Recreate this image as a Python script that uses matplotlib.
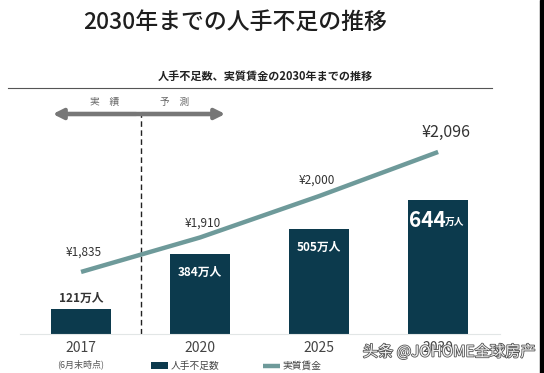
import matplotlib.pyplot as plt
import matplotlib.patheffects as pe
from matplotlib.lines import Line2D
from matplotlib.patches import Rectangle

plt.rcParams['font.family'] = ['Noto Sans CJK JP', 'DejaVu Sans']

# data
years = ["2017", "2020", "2025", "2030"]
shortage = [121, 384, 505, 644]          # 万人
wage = [1835, 1910, 2000, 2096]          # 実質賃金 (円)
wage_labels = ["¥1,835", "¥1,910", "¥2,000", "¥2,096"]

bar_color = "#0c3a4d"
line_color = "#6e9a9a"

W, H = 544, 373
fig = plt.figure(figsize=(W / 100, H / 100), dpi=100)

def fx(px):
    return px / W

def fy(py):
    return 1 - py / H

ax = fig.add_axes([fx(20), fy(334), fx(500) - fx(20), fy(100) - fy(334)])
x = list(range(len(years)))
bars = ax.bar(x, shortage, width=0.5, color=bar_color, zorder=2, label="人手不足数")
ax.set_xlim(-0.513, 3.52)
ax.set_ylim(0, 1125)
ax.set_yticks([])
for s in ["top", "left", "right"]:
    ax.spines[s].set_visible(False)
ax.spines["bottom"].set_color("#e2e6e6")
ax.set_xticks(x)
ax.set_xticklabels(years, fontsize=10, color="#444444")
ax.tick_params(axis="x", length=0, pad=5)

# 実績 / 予測 boundary
ax.axvline(0.5, ymin=0, ymax=0.94, ls=(0, (4, 2.5)), color="#222222", lw=1, zorder=1)

# bar labels
ax.text(0, shortage[0] + 20, "121万人", ha="center", va="bottom", fontsize=8.5,
        fontweight="bold", color="#333333")
for i in (1, 2):
    ax.text(i, shortage[i] - 90, f"{shortage[i]}万人", ha="center", va="center",
            fontsize=8.5, fontweight="bold", color="white")
ax.text(3.06, shortage[3] - 96, "644", ha="right", va="center", fontsize=15,
        fontweight="bold", color="white")
ax.text(3.06, shortage[3] - 104, "万人", ha="left", va="center", fontsize=7,
        fontweight="bold", color="white")

# wage line
ax2 = ax.twinx()
ax2.set_ylim(1700, 2209)
ax2.axis("off")
ln, = ax2.plot(x, wage, color=line_color, lw=3.2, solid_capstyle="butt", zorder=3,
               label="実質賃金")
offs = [(0.02, 28), (0.02, 18), (-0.02, 20), (0.07, 24)]
sizes = [8.5, 8.5, 8.5, 11.5]
for i, lab in enumerate(wage_labels):
    ax2.text(x[i] + offs[i][0], wage[i] + offs[i][1], lab, ha="center", va="bottom",
             fontsize=sizes[i], color="#333333")

# titles
fig.text(fx(235), fy(22), "2030年までの人手不足の推移", ha="center", va="center",
         fontsize=16.5, fontweight="medium", color="#1e1e1e")
fig.text(fx(265), fy(76), "人手不足数、実質賃金の2030年までの推移", ha="center",
         va="center", fontsize=8, fontweight="bold", color="#222222")
fig.add_artist(Line2D([fx(8), fx(492)], [fy(88), fy(88)], color="#555555", lw=0.8))

# 実績 <-> 予測 arrow
fig.add_artist(Line2D([fx(62), fx(216)], [fy(114), fy(114)], color="#777777", lw=3.2))
for end in (50, 228):
    ax.annotate("", xy=(fx(end), fy(114)), xytext=(fx(139), fy(114)),
                xycoords="figure fraction",
                arrowprops=dict(arrowstyle="-|>", color="#777777", lw=3,
                                mutation_scale=15))
fig.text(fx(105), fy(102), "実　績", ha="center", va="center", fontsize=7, color="#666666")
fig.text(fx(175), fy(102), "予　測", ha="center", va="center", fontsize=7, color="#666666")

fig.text(fx(81), fy(364), "(6月末時点)", ha="center", va="center", fontsize=6.5,
         color="#555555")

# legend
fig.legend(handles=[bars, ln], loc="center", bbox_to_anchor=(fx(236), fy(366)),
           ncol=2, frameon=False, fontsize=7, columnspacing=4.5, handlelength=1.8,
           handletextpad=0.2, labelcolor="#444444")

# watermark
fig.text(fx(449), fy(352), "头条 @JOHOME全球房产", ha="center", va="center",
         fontsize=11, color="#f4f4f4", family=["Noto Sans CJK SC", "DejaVu Sans"],
         path_effects=[pe.withStroke(linewidth=1.2, foreground="#555555")])

# right edge strip
fig.add_artist(Rectangle((fx(540), 0), fx(4), 1, color="black", transform=fig.transFigure))

fig.savefig("out.png", dpi=100)
